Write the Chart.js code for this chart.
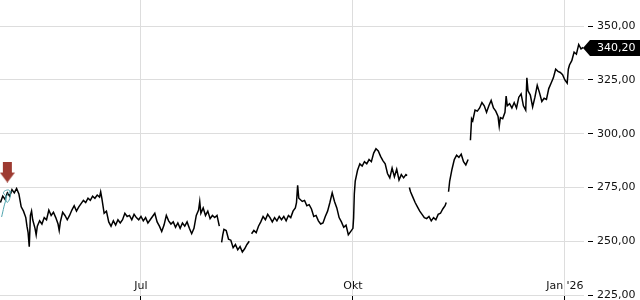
<!DOCTYPE html>
<html>
<head>
<meta charset="utf-8">
<script src="https://cdn.jsdelivr.net/npm/chart.js@4.4.1/dist/chart.umd.min.js"></script>
<style>
  html, body { margin: 0; padding: 0; background: #fff; overflow: hidden; }
  #wrap { position: relative; width: 640px; height: 306px; }
</style>
</head>
<body>
<div id="wrap"><canvas id="kurs"></canvas></div>
<script>
// days counted from 1 Jul 2025
const days = [
  -61, -60, -59, -58, -57, -56, -55, -54, -53, -52, -51, -50, -49.5, -49, -48.5, -48, -47.5, -47, -46, -45.5,
  -45, -44, -43, -42, -41, -40, -39, -38, -37, -36, -35.5, -35, -34, -33, -32, -31, -30, -29, -28, -27,
  -26, -25, -24, -23, -22, -21, -20, -19, -18, -17.5, -17, -16, -15, -14, -13, -12, -11, -10, -9, -8,
  -7, -6, -5, -4, -3, -2, -1, 0, 1, 2, 3, 4, 5, 6, 7, 8, 9, 10, 11, 12,
  13, 14, 15, 16, 17, 18, 19, 20, 21, 22, 23, 24, 25, 25.5, 26, 27, 28, 29, 30, 31,
  32, 33, 34, 34.5, 35, 35.5, 36, 37, 38, 39, 40, 41, 42, 43, 44, 45, 46, 47, 47.5, 48,
  49, 50, 51, 52, 53, 54, 55, 56, 57, 58, 59, 60, 61, 62, 63, 64, 65, 66, 67, 67.5,
  68, 68.5, 69, 70, 71, 72, 73, 74, 75, 76, 77, 78, 79, 80, 81, 82, 83, 84, 85, 86,
  87, 88, 89, 90, 91, 92, 92.3, 92.6, 93, 94, 95, 96, 97, 98, 99, 100, 101, 102, 103, 104,
  105, 106, 107, 108, 109, 110, 111, 112, 113, 114, 115, 115.5, 116, 116.5, 117, 118, 119, 120, 121, 122,
  123, 124, 125, 126, 127, 128, 129, 130, 131, 132, 132.5, 133, 133.5, 134, 135, 136, 137, 138, 139, 140,
  141, 142, 142.5, 143, 143.5, 144, 145, 146, 147, 148, 149, 150, 151, 152, 153, 154, 155, 155.5, 156, 157,
  158, 158.5, 159, 160, 161, 162, 163, 164, 165, 166, 167, 167.5, 168, 169, 170, 171, 172, 173, 174, 175,
  176, 177, 178, 179, 180, 181, 182, 183, 184, 185, 185.5, 186, 187, 188, 189, 190, 191, 192
];
const prices = [
  268, 271, 269.5, 272.5, 271, 274, 272.5, 274.5, 272, 266, 264, 261, 257, 254, 247.5, 262, 264, 260, 256, 253,
  257, 259.5, 258, 261, 260, 264.5, 262, 263.5, 261, 258, 255, 259, 263.5, 262, 260, 262, 264.5, 266.5, 264, 266,
  267.5, 269, 268, 270, 269, 271, 270, 271.5, 270.5, 273, 270, 263, 264, 259, 257, 259.5, 257.5, 260, 258.5, 260,
  263, 261.5, 262, 260, 262.5, 261, 260, 261.5, 259.5, 261, 258.5, 260, 261.5, 263, 259, 257, 254.5, 257.5, 262, 259.5,
  258, 259, 256.5, 258.5, 256, 258.5, 257, 259, 256, 253.5, 256, 262, 264.5, 268.5, 263, 265.5, 262, 264, 260.5, 262,
  261, 262, 257, null, 249.5, 253, 255.5, 255, 251, 250.5, 247, 248.5, 246, 247.5, 245, 246.5, 248.5, 250, null, 253.5,
  255, 254, 257, 259, 261.5, 260, 262.5, 261, 259, 261, 259.5, 261.5, 260, 261.5, 259.5, 262, 261, 264, 265.5, 268,
  276, 270, 269.5, 268.5, 269, 266.5, 267, 265, 261.5, 262, 259.5, 258, 258.5, 261.5, 264, 268, 272.5, 268.5, 265.5, 261,
  259, 256.5, 257.5, 253, 254.5, 256, 261, 272, 278, 283, 286, 285, 287, 286, 288, 287, 291, 293, 292, 289.5,
  287.5, 286, 281.5, 279.5, 284, 280, 283.5, 278.5, 281, 279.5, 281, 280.5, null, 275, 273, 270.5, 268, 266, 264, 262.5,
  261, 260.5, 261.5, 259.5, 261, 260, 262.5, 263, 265, 266.5, 268, null, 273, 278, 283.5, 288, 290, 289, 290.5, 287,
  285.5, 288, null, 297, 307, 306, 311, 310.5, 312, 314.5, 313, 310, 313, 315.5, 312, 310.5, 308, 303.5, 307.5, 307,
  310, 317.5, 313, 314, 312, 314.5, 312, 317, 318.5, 313, 311, 326, 320, 318, 312.5, 317, 322.5, 319, 315, 316.5,
  316, 321, 323.5, 326, 330, 329, 328.5, 327.5, 325, 323.5, 330, 332, 334, 338, 337, 341.5, 339.5, 340.2
];

// short teal scribble at the start
const tealDays = [-60.5, -59.5, -58.6, -59.7, -58.8, -57.1, -56.8, -58.0, -58.7, -57.5, -56.2];
const tealPrices = [261.3, 266.0, 270.6, 272.5, 273.6, 273.6, 270.6, 268.1, 269.7, 272.5, 273.2];

// event arrow
const markerDays = [-58];
const markerPrices = [282.2];

const xTickDays = [0, 92, 184];
const xTickLabels = ["Jul", "Okt", "Jan '26"];
const yTicks = [225, 250, 275, 300, 325, 350];

function fmt(v) {
  return v.toFixed(2).replace(".", ",");
}

// arrow picture for the marker point
const arrowImg = document.createElement("canvas");
arrowImg.width = 15;
arrowImg.height = 21;
(function () {
  const c = arrowImg.getContext("2d");
  c.fillStyle = "#9d3a31";
  c.fillRect(3, 0, 9, 12);
  c.beginPath();
  c.moveTo(0, 11);
  c.lineTo(15, 11);
  c.lineTo(7.5, 21);
  c.closePath();
  c.fill();
})();

// black tag with the last price on the right axis
const lastTag = {
  id: "lastTag",
  afterDraw(chart) {
    const ys = chart.scales.y;
    const last = prices[prices.length - 1];
    const y = Math.round(ys.getPixelForValue(last)) + 1;
    const x0 = chart.chartArea.right - 1;
    const c = chart.ctx;
    c.save();
    c.fillStyle = "#000";
    c.beginPath();
    c.moveTo(x0, y);
    c.lineTo(x0 + 7, y - 8);
    c.lineTo(chart.width, y - 8);
    c.lineTo(chart.width, y + 8);
    c.lineTo(x0 + 7, y + 8);
    c.closePath();
    c.fill();
    c.fillStyle = "#fff";
    c.font = "11px 'DejaVu Sans'";
    c.textBaseline = "middle";
    c.fillText(fmt(last), ys.left + 13, y + 0.5);
    c.restore();
  },
};

new Chart(document.getElementById("kurs"), {
  type: "line",
  data: {
    datasets: [
      {
        label: "Kurs",
        data: days.map((d, i) => ({ x: d, y: prices[i] })),
        borderColor: "#000",
        borderWidth: 1.5,
        pointRadius: 0,
        spanGaps: false,
        tension: 0,
        order: 2,
      },
      {
        label: "teal",
        data: tealDays.map((d, i) => ({ x: d, y: tealPrices[i] })),
        borderColor: "#4fa3ad",
        borderWidth: 1,
        pointRadius: 0,
        tension: 0.4,
        order: 1,
      },
      {
        label: "marker",
        data: markerDays.map((d, i) => ({ x: d, y: markerPrices[i] })),
        showLine: false,
        pointStyle: arrowImg,
        pointRadius: 10,
        order: 0,
      },
    ],
  },
  options: {
    responsive: true,
    maintainAspectRatio: false,
    animation: false,
    layout: { padding: 0, autoPadding: false },
    plugins: {
      legend: { display: false },
      tooltip: { enabled: false },
    },
    scales: {
      x: {
        type: "linear",
        min: -61.2,
        max: 192.3,
        border: { display: false },
        grid: {
          color: "#dddddd",
          drawTicks: true,
          tickLength: 5,
          tickColor: "#000",
        },
        ticks: {
          mirror: true,
          padding: 2,
          color: "#111",
          font: { family: "'DejaVu Sans'", size: 11 },
          maxRotation: 0,
          autoSkip: false,
          callback: (v) => xTickLabels[xTickDays.indexOf(v)],
        },
        afterBuildTicks: (s) => {
          s.ticks = xTickDays.map((v) => ({ value: v }));
        },
        afterFit: (s) => {
          s.height = 11;
          s.paddingLeft = 0;
          s.paddingRight = 0;
        },
      },
      y: {
        position: "right",
        min: 225,
        max: 362.2,
        border: { display: false },
        grid: {
          color: "#dddddd",
          tickLength: 9,
          tickColor: "#000",
          tickBorderDash: [5, 4],
          tickBorderDashOffset: 5,
        },
        ticks: {
          padding: 4,
          color: "#111",
          font: { family: "'DejaVu Sans'", size: 11 },
          callback: (v) => fmt(v),
        },
        afterBuildTicks: (s) => {
          s.ticks = yTicks.map((v) => ({ value: v }));
        },
        afterFit: (s) => {
          s.width = 56;
          s.paddingTop = 0;
          s.paddingBottom = 0;
        },
      },
    },
  },
  plugins: [lastTag],
});
</script>
</body>
</html>
